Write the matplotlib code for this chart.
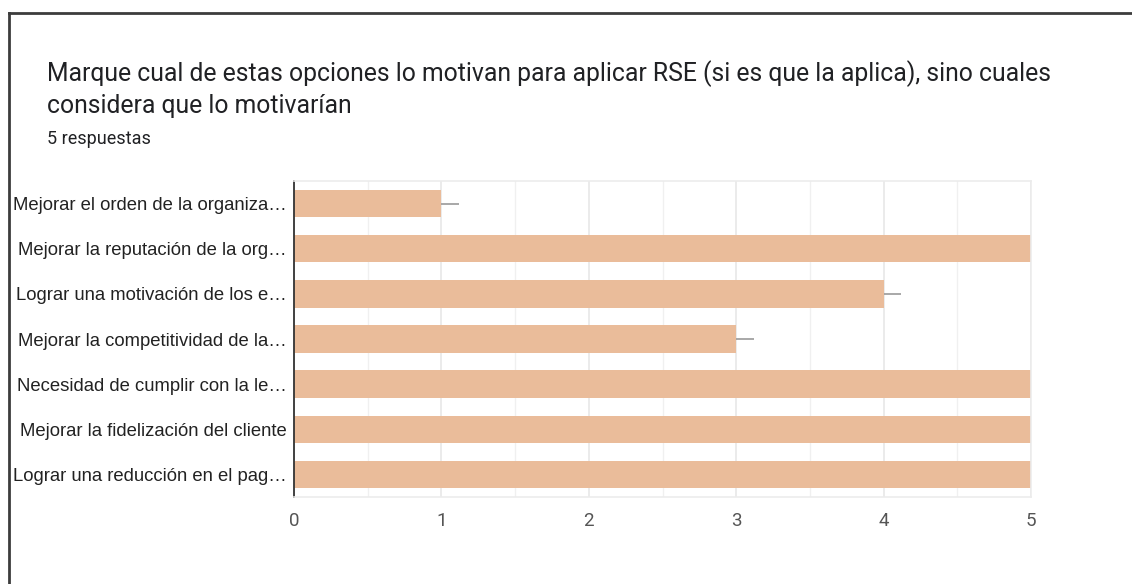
import matplotlib
matplotlib.use("Agg")
import matplotlib.pyplot as plt
from matplotlib.lines import Line2D
from matplotlib.ticker import MultipleLocator

categories = [
    "Mejorar el orden de la organiza…",
    "Mejorar la reputación de la org…",
    "Lograr una motivación de los e…",
    "Mejorar la competitividad de la…",
    "Necesidad de cumplir con la le…",
    "Mejorar la fidelización del cliente",
    "Lograr una reducción en el pag…",
]
values = [1, 5, 4, 3, 5, 5, 5]
xticks = [0, 1, 2, 3, 4, 5]
title_lines = [
    "Marque cual de estas opciones lo motivan para aplicar RSE (si es que la aplica), sino cuales",
    "considera que lo motivarían",
]
subtitle = "5 respuestas"

W, H = 1132, 584
fig = plt.figure(figsize=(W / 100, H / 100), dpi=100)
fig.patch.set_facecolor("white")

# frame lines (top and left)
fig.add_artist(Line2D([8.5 / W, 8.5 / W], [0, 1 - 12.5 / H], transform=fig.transFigure,
                      color="#3c3c3c", lw=2))
fig.add_artist(Line2D([8.5 / W, 1], [1 - 12.5 / H, 1 - 12.5 / H], transform=fig.transFigure,
                      color="#3c3c3c", lw=2))

fig.text(47 / W, 1 - 74 / H, title_lines[0], fontsize=17.8, family="Roboto",
         color="#202124", va="center", ha="left")
fig.text(47 / W, 1 - 106 / H, title_lines[1], fontsize=17.8, family="Roboto",
         color="#202124", va="center", ha="left")
fig.text(47 / W, 1 - 139 / H, subtitle, fontsize=13, family="Roboto",
         color="#202124", va="center", ha="left")

left, right, top, bottom = 294, 1031, 181, 497
ax = fig.add_axes([left / W, 1 - bottom / H, (right - left) / W, (bottom - top) / H])
ypos = list(range(len(categories)))
ax.barh(ypos, values, height=0.61, color="#EABC9A", zorder=2)
# small whisker lines at bar ends
ax.hlines(ypos, values, [v + 0.12 for v in values], color="#9a9a9a", lw=1.2, zorder=3)

ax.set_xlim(0, 5)
ax.set_ylim(len(categories) - 0.5, -0.5)
ax.set_xticks(xticks)
ax.xaxis.set_minor_locator(MultipleLocator(0.5))
ax.grid(axis="x", which="major", color="#e8e8e8", lw=1.2, zorder=0)
ax.grid(axis="x", which="minor", color="#f0f0f0", lw=1.0, zorder=0)
ax.set_axisbelow(True)
ax.set_yticks(ypos)
ax.set_yticklabels(categories, family="Liberation Sans", fontsize=13.3, color="#222222")
for lab in ax.get_xticklabels():
    lab.set_family("Roboto")
ax.tick_params(axis="x", labelsize=13.5, labelcolor="#555555", length=0, pad=11)
ax.tick_params(axis="y", length=0, pad=5)
ax.tick_params(which="minor", length=0)
ax.spines["left"].set_color("#333333")
ax.spines["left"].set_linewidth(1.3)
for s in ["top", "right", "bottom"]:
    ax.spines[s].set_color("#ececec")
    ax.spines[s].set_linewidth(1.2)

fig.savefig("out.png", dpi=100, facecolor="white")
